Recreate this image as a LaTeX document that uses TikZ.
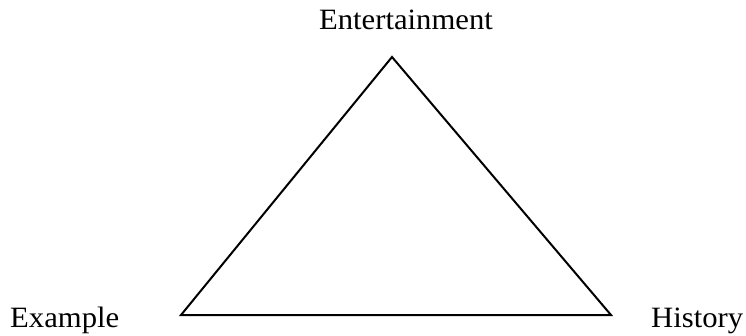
\documentclass[tikz,border=0pt]{standalone}
\usepackage{fontspec}
\setmainfont{Liberation Serif}[FakeStretch=1.04]
\begin{document}
\begin{tikzpicture}[x=1bp,y=-1bp,
  lbl/.style={inner sep=0pt,anchor=base,font=\fontsize{29.5bp}{34bp}\selectfont},
  edge/.style={line width=2bp,line join=miter}]
\useasboundingbox (0,0) rectangle (746,335);
\coordinate (top) at (392,57);
\coordinate (bl) at (181,315);
\coordinate (br) at (611,315);
\draw[edge] (top) -- (bl) -- (br) -- cycle;
\node[lbl] (ent) at (406,29.5) {Entertainment};
\node[lbl,anchor=base west] (ex) at (10,327) {Example};
\node[lbl,anchor=base west] (hi) at (651,327) {History};
\end{tikzpicture}
\end{document}
